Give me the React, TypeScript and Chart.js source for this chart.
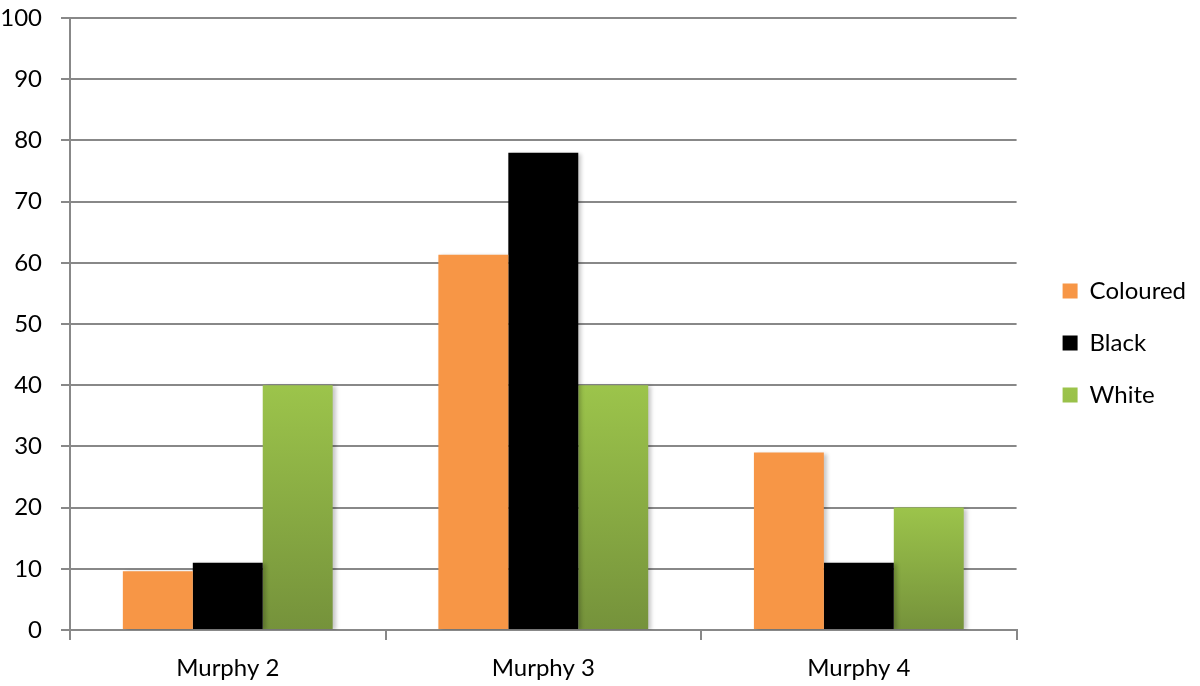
import React, { useEffect, useRef } from 'react';
import { Chart, registerables } from 'chart.js';

Chart.register(...registerables);

const categories = ['Murphy 2', 'Murphy 3', 'Murphy 4'];
const seriesNames = ['Coloured', 'Black', 'White'];
const colouredValues = [9.6, 61.3, 29];
const blackValues = [11, 78, 11];
const whiteValues = [40, 40, 20];
const yMin = 0;
const yMax = 100;
const yStep = 10;

const FONT = 'Lato, "Open Sans", sans-serif';
const GRID = '#888888';

const shadowPlugin = {
  id: 'barShadow',
  beforeDatasetsDraw(chart: any) {
    const ctx = chart.ctx;
    ctx.save();
    ctx.shadowColor = 'rgba(0,0,0,0.22)';
    ctx.shadowBlur = 4;
    ctx.shadowOffsetX = 3;
    ctx.shadowOffsetY = 1;
  },
  afterDatasetsDraw(chart: any) {
    chart.ctx.restore();
  },
};

export default function App() {
  const ref = useRef<HTMLCanvasElement | null>(null);

  useEffect(() => {
    if (!ref.current) return;
    const greenFill = (c: any) => {
      const chart = c.chart;
      const { ctx, chartArea, scales } = chart;
      if (!chartArea || c.type !== 'data' || !scales.y) return '#8db445';
      const top = scales.y.getPixelForValue(c.raw);
      const bottom = scales.y.getPixelForValue(0);
      const g = ctx.createLinearGradient(0, top, 0, bottom);
      g.addColorStop(0, '#9cc44b');
      g.addColorStop(1, '#75923b');
      return g;
    };
    const chart = new Chart(ref.current, {
      type: 'bar',
      data: {
        labels: categories,
        datasets: [
          { label: seriesNames[0], data: colouredValues, backgroundColor: '#f79646' },
          { label: seriesNames[1], data: blackValues, backgroundColor: '#000000' },
          { label: seriesNames[2], data: whiteValues, backgroundColor: greenFill as any },
        ],
      },
      options: {
        responsive: false,
        animation: false,
        layout: { padding: { top: 3.6, bottom: 3.6, left: 0, right: 4 } },
        datasets: {
          bar: { categoryPercentage: 0.665, barPercentage: 1.0 },
        },
        plugins: {
          tooltip: { enabled: false },
          legend: {
            position: 'right',
            labels: {
              boxWidth: 15,
              boxHeight: 15,
              padding: 28,
              color: '#000',
              font: { family: FONT, size: 24 },
            },
          },
        },
        scales: {
          x: {
            grid: {
              offset: true,
              drawOnChartArea: false,
              color: GRID,
              lineWidth: 2,
              tickLength: 10,
            },
            border: { color: GRID, width: 2 },
            ticks: { color: '#000', font: { family: FONT, size: 24 }, padding: 14 },
            afterFit: (s: any) => { s.height = 52.4; },
          },
          y: {
            min: yMin,
            max: yMax,
            grid: { color: GRID, lineWidth: 2, tickLength: 9 },
            border: { color: GRID, width: 2 },
            ticks: { stepSize: yStep, color: '#000', font: { family: FONT, size: 24 }, padding: 19 },
            afterFit: (s: any) => {
              s.width = 70;
              s.paddingTop = 18;
              s.paddingBottom = 0;
            },
          },
          gap: {
            type: 'linear',
            position: 'right',
            display: true,
            grid: { display: false },
            border: { display: false },
            ticks: { display: false },
            afterFit: (s: any) => { s.width = 18; },
          },
        },
      } as any,
      plugins: [shadowPlugin],
    });
    return () => chart.destroy();
  }, []);

  return (
    <div style={{ position: 'fixed', left: 0, top: 0, width: 1200, height: 686, background: '#fff' }}>
      <canvas ref={ref} width={1200} height={686} style={{ display: 'block' }} />
    </div>
  );
}
